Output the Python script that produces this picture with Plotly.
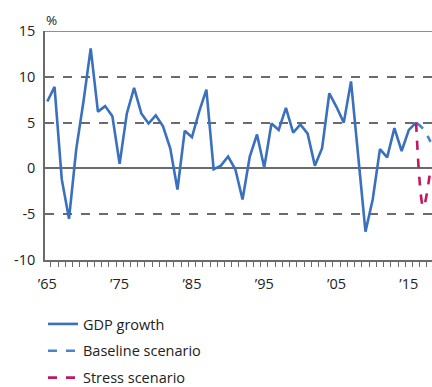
import plotly.graph_objects as go

years = list(range(1965, 2017))
gdp = [7.3, 8.9, -1.2, -5.5, 2.1, 7.3, 13.1, 6.2, 6.8, 5.7,
       0.5, 6.0, 8.8, 6.0, 4.9, 5.8, 4.6, 2.2, -2.3, 4.1,
       3.4, 6.2, 8.6, -0.1, 0.3, 1.3, -0.1, -3.4, 1.3, 3.7,
       0.1, 4.9, 4.2, 6.6, 3.9, 4.8, 3.8, 0.3, 2.2, 8.2,
       6.7, 5.0, 9.5, 1.3, -6.9, -3.4, 2.1, 1.2, 4.4, 1.9,
       4.2, 5.0]
scen_years = [2016, 2017, 2018]
baseline = [5.0, 4.3, 2.9]
stress = [5.0, -4.2, 0.0]

tick_years = [1965, 1975, 1985, 1995, 2005, 2015]
tick_text = ["’65", "’75", "’85", "’95", "’05", "’15"]
y_ticks = [-10, -5, 0, 5, 10, 15]
y_text = ["-10", "-5", "0", "5", "10", "15"]

blue = "#3a70bd"
blue2 = "#4a85cc"
magenta = "#c2185f"
grey = "#6b6b6b"
font = "Open Sans"
fs = 14.5

fig = go.Figure()
fig.add_trace(go.Scatter(x=years, y=gdp, mode="lines", name="GDP growth",
                         legendgroup="a",
                         line=dict(color=blue, width=2.6)))
fig.add_trace(go.Scatter(x=scen_years, y=baseline, mode="lines", name="Baseline scenario",
                         legendgroup="b", line_shape="spline",
                         line=dict(color=blue2, width=2.6, dash="dash")))
fig.add_trace(go.Scatter(x=scen_years, y=stress, mode="lines", name="Stress scenario",
                         legendgroup="c", line_shape="spline",
                         line=dict(color=magenta, width=2.6, dash="dash")))

fig.add_shape(type="line", xref="paper", yref="y", x0=0, x1=1, y0=15, y1=15,
              line=dict(color=grey, width=1.5), layer="below")

fig.add_annotation(text="%", xref="paper", yref="paper", x=0.016, y=1.05,
                   showarrow=False, xanchor="center", yanchor="middle",
                   font=dict(family=font, size=13.5, color="#222"))

fig.update_layout(
    width=432, height=387, autosize=False,
    margin=dict(l=45, r=0, t=31, b=127, pad=0, autoexpand=False),
    plot_bgcolor="white", paper_bgcolor="white",
    font=dict(family=font, size=fs, color="#222"),
    showlegend=True,
    legend=dict(xref="container", yref="container", x=0.0995, y=1 - 308 / 387,
                xanchor="left", yanchor="top", tracegroupgap=5,
                font=dict(family=font, size=fs, color="#222"),
                bgcolor="rgba(0,0,0,0)"),
    xaxis=dict(range=[1964.68, 2018.2], showgrid=False, zeroline=False,
               showline=True, linecolor=grey, linewidth=1.5,
               tickvals=tick_years, ticktext=tick_text,
               ticks="outside", ticklen=10, tickcolor="rgba(0,0,0,0)",
               tickfont=dict(family=font, size=fs, color="#222"),
               minor=dict(tick0=1964.5, dtick=1, ticks="outside", ticklen=5,
                          tickcolor=grey, tickwidth=1.2, showgrid=False)),
    yaxis=dict(range=[-10, 15], tickvals=y_ticks, ticktext=y_text,
               showgrid=True, gridcolor=grey, gridwidth=1.5, griddash="dash",
               zeroline=True, zerolinecolor=grey, zerolinewidth=1.5,
               showline=True, linecolor=grey, linewidth=1.5,
               ticks="outside", ticklen=5, tickcolor="rgba(0,0,0,0)",
               tickfont=dict(family=font, size=fs, color="#222")),
)

fig.write_html("out.html", config={"displayModeBar": False},
               post_script="document.body.style.margin='0px';")
